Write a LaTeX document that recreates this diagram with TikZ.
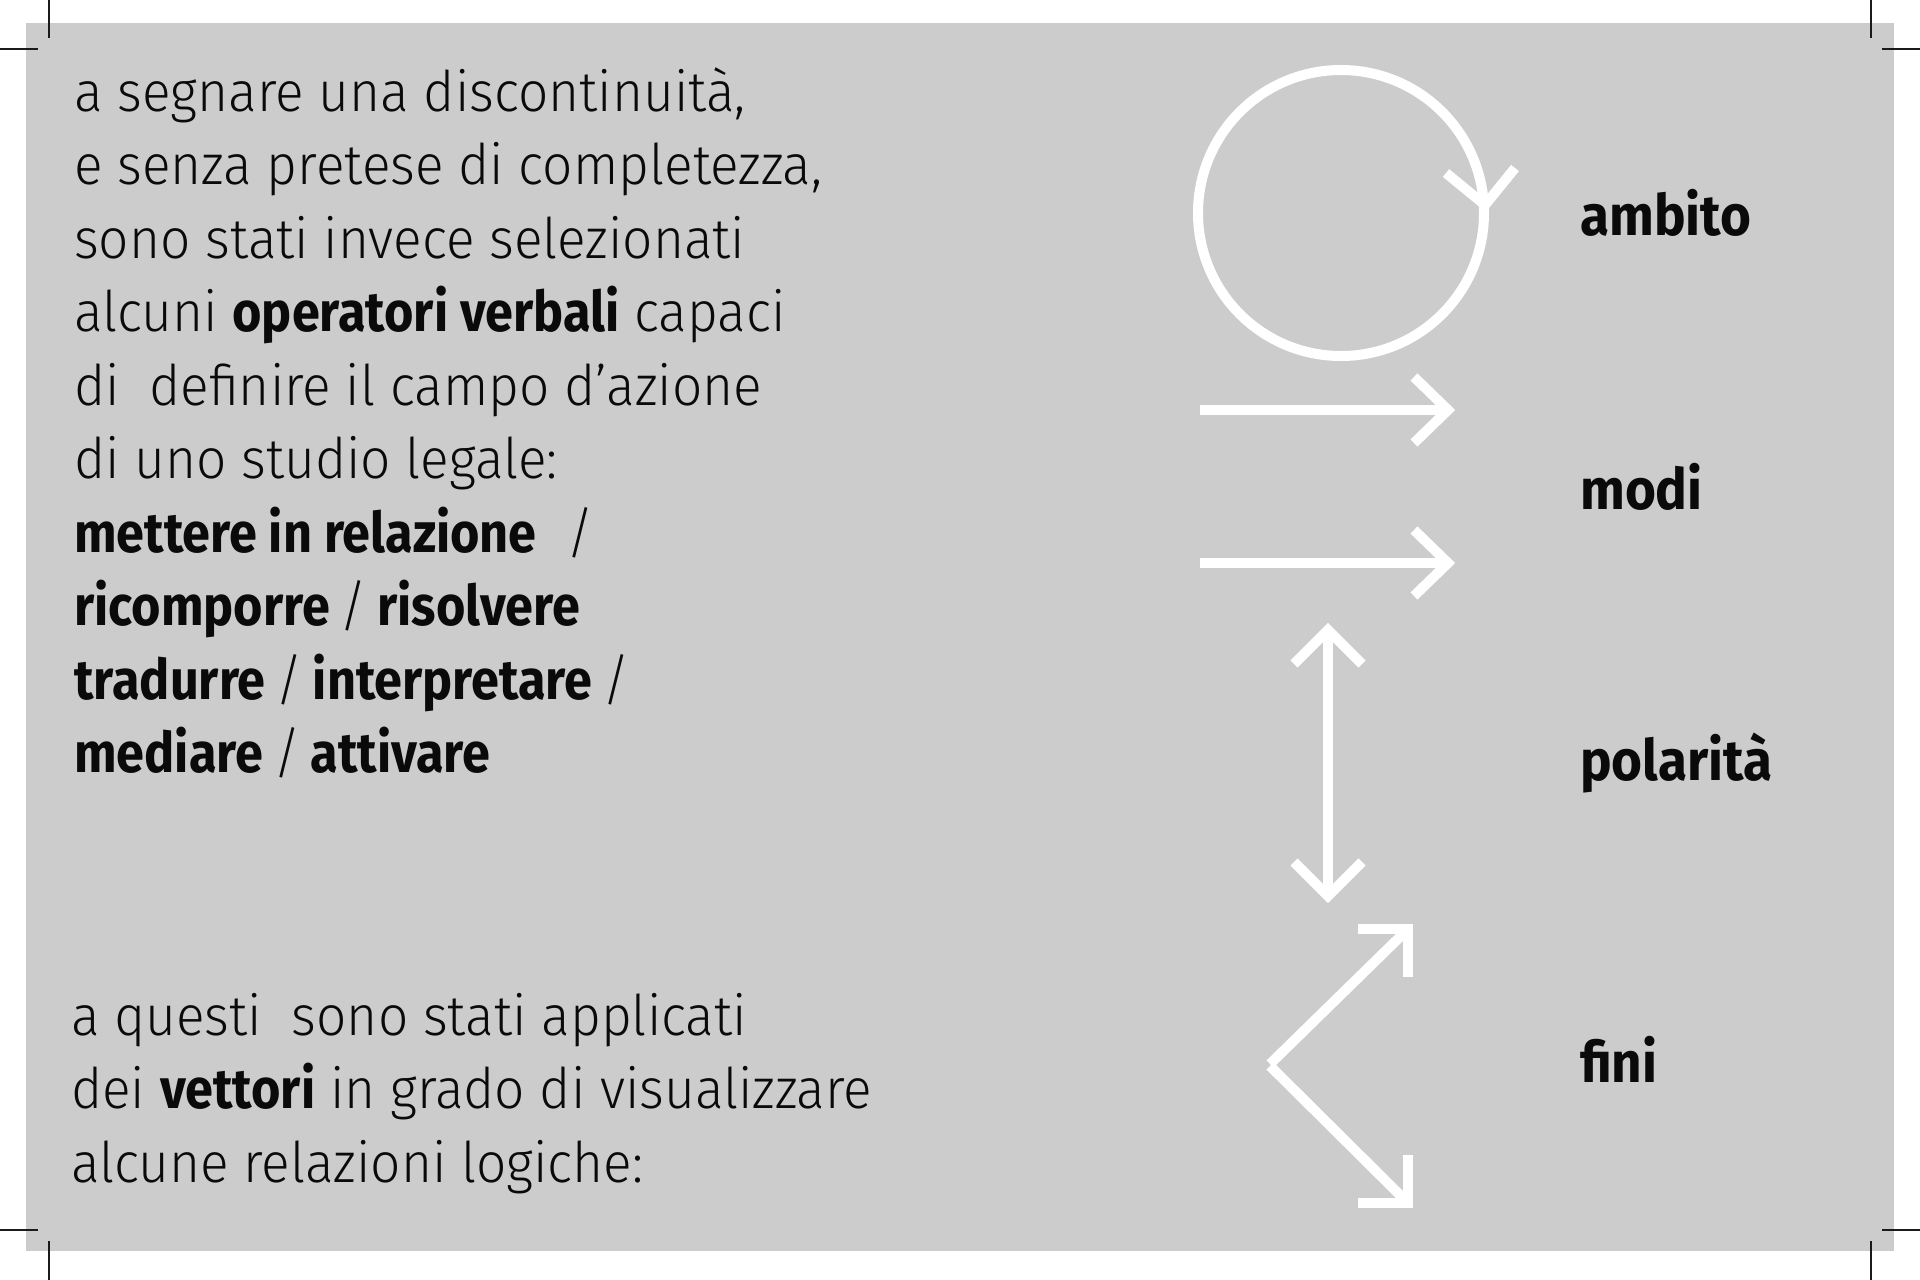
\documentclass[tikz,border=0pt]{standalone}
\usepackage{fontspec}
\setmainfont{Fira Sans}[UprightFont=* Light, UprightFeatures={FakeStretch=0.95}, BoldFont=* Bold, BoldFeatures={FakeStretch=0.9}]
\newfontfamily\labelfont{Fira Sans}[UprightFont=* Bold, FakeStretch=0.93]
\newcommand\vsl{\hspace{-5pt} / \hspace{-5pt}}
\definecolor{panel}{HTML}{CCCCCC}
\definecolor{ink}{HTML}{0A0A0A}
\definecolor{cropc}{HTML}{1A1A1A}
\begin{document}
\begin{tikzpicture}[x=1pt,y=-1pt,
  body/.style={anchor=base west, inner sep=0pt, font=\fontsize{56}{70}\selectfont, text=ink},
  lab/.style={anchor=base west, inner sep=0pt, font=\labelfont\fontsize{57}{70}\selectfont, text=ink},
  vec/.style={draw=white, line width=10pt, line cap=butt, line join=miter, miter limit=10},
  crop/.style={draw=cropc, line width=2pt}]
\useasboundingbox (0,0) rectangle (1920,1280);
\fill[white] (0,0) rectangle (1920,1280);
\fill[panel] (26,23) rectangle (1894,1251);
% crop marks
\draw[crop] (0,49) -- (38,49);
\draw[crop] (49,0) -- (49,38);
\draw[crop] (1882,49) -- (1920,49);
\draw[crop] (1871,0) -- (1871,38);
\draw[crop] (0,1230) -- (38,1230);
\draw[crop] (49,1241) -- (49,1280);
\draw[crop] (1882,1230) -- (1920,1230);
\draw[crop] (1871,1241) -- (1871,1280);
% body text
\node[body] (l1) at (74,111) {a segnare una discontinuità,};
\node[body] (l2) at (74,184.5) {e senza pretese di completezza,};
\node[body] (l3) at (74,258) {sono stati invece selezionati};
\node[body] (l4) at (74,331.5) {alcuni \textbf{operatori verbali} capaci};
\node[body] (l5) at (74,405) {di\ \ definire il campo d’azione};
\node[body] (l6) at (74,478.5) {di uno studio legale:};
\node[body] (l7) at (74,552) {\textbf{mettere in relazione}\ \ /};
\node[body] (l8) at (74,625.5) {\textbf{ricomporre}\vsl\textbf{risolvere}};
\node[body] (l9) at (74,699) {\textbf{tradurre}\vsl\textbf{interpretare}\hspace{-5pt} /};
\node[body] (l10) at (74,772.5) {\textbf{mediare}\vsl\textbf{attivare}};
\node[body] (m1) at (71,1035) {a questi\ \ sono stati applicati};
\node[body] (m2) at (71,1108.5) {dei \textbf{vettori} in grado di visualizzare};
\node[body] (m3) at (71,1182) {alcune relazioni logiche:};
% labels
\node[lab] (ambito) at (1580,235) {ambito};
\node[lab] (modi) at (1580,509) {modi};
\node[lab] (polarita) at (1580,780) {polarità};
\node[lab] (fini) at (1580,1082) {fini};
% ambito: circular arrow
\coordinate (cc) at (1341,213);
\draw[vec] (cc) circle (143pt);
\draw[vec] (1446,173) -- (1485,205) -- (1515,168);
% modi: two arrows
\draw[vec] (1200,410) -- (1446,410);
\draw[vec] (1414,377) -- (1448,410) -- (1414,443);
\draw[vec] (1200,563) -- (1446,563);
\draw[vec] (1414,530) -- (1448,563) -- (1414,596);
% polarita: double arrow
\draw[vec] (1328,632) -- (1328,894);
\draw[vec] (1294,664) -- (1328,630) -- (1362,664);
\draw[vec] (1294,862) -- (1328,896) -- (1362,862);
% fini: diverging arrows
\draw[vec] (1270,1064) -- (1405,932);
\draw[vec] (1358,929) -- (1408,929) -- (1408,977);
\draw[vec] (1270,1066) -- (1405,1200);
\draw[vec] (1358,1203) -- (1408,1203) -- (1408,1155);
\end{tikzpicture}
\end{document}
